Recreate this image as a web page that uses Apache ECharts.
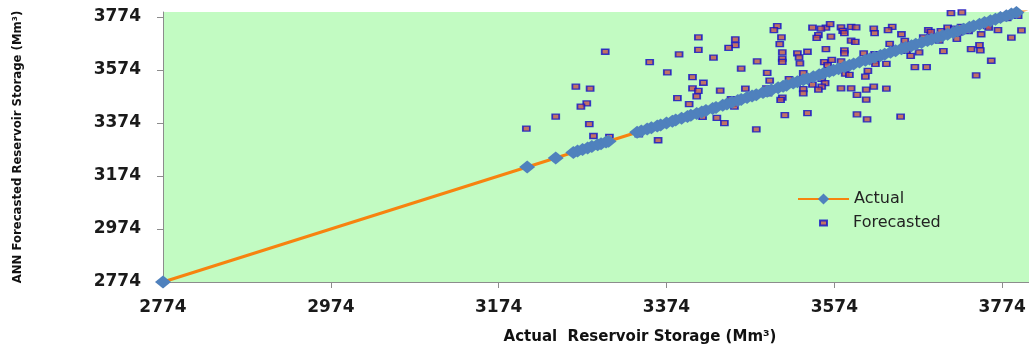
<!DOCTYPE html>
<html>
<head>
<meta charset="utf-8">
<script src="https://cdn.jsdelivr.net/npm/echarts@6/dist/echarts.min.js"></script>
<style>
  html, body { margin: 0; padding: 0; background: #fff; }
  #chart { width: 1029px; height: 347px; }
</style>
</head>
<body>
<div id="chart"></div>
<script>
// tick positions shared by both axes
const axisTicks = [2774, 2974, 3174, 3374, 3574, 3774];

// actual storage (plotted against itself)
const actualStorage = [
  2774, 3208, 3242, 3263, 3268, 3274, 3280, 3285, 3292, 3296, 3302, 3305,
  3339, 3344, 3351, 3356, 3363, 3367, 3374, 3381, 3385, 3392, 3399, 3403,
  3410, 3416, 3421, 3429, 3433, 3441, 3446, 3452, 3459, 3463, 3470, 3476,
  3481, 3489, 3494, 3499, 3507, 3513, 3517, 3525, 3530, 3537, 3542, 3549,
  3556, 3561, 3568, 3573, 3579, 3586, 3592, 3597, 3604, 3611, 3616, 3622,
  3629, 3634, 3641, 3647, 3654, 3659, 3666, 3671, 3678, 3685, 3690, 3697,
  3703, 3709, 3716, 3721, 3728, 3735, 3740, 3747, 3753, 3760, 3766, 3772,
  3779, 3785, 3791, 3798, 3804
];

// forecasted points: actual storage (x) and ANN forecast (y)
const forecastActual = [
  3301, 3389, 3354, 3375, 3405, 3266, 3283, 3279, 3272, 3242, 3207, 3282,
  3287, 3306, 3341, 3364, 3387, 3401, 3412, 3412, 3405, 3412, 3410,
  3506, 3502, 3548, 3564, 3558, 3569, 3582, 3584, 3586, 3594, 3600, 3456,
  3511, 3555, 3553, 3570, 3594, 3599, 3456, 3448, 3509, 3512, 3530, 3542,
  3564, 3586, 3586, 3609, 3430, 3512, 3532, 3512, 3482, 3562, 3571, 3582,
  3533, 3566, 3463, 3494, 3537, 3614, 3559, 3587, 3592, 3611, 3520, 3534,
  3497, 3559, 3418, 3529, 3563, 3548, 3559, 3438, 3468, 3493, 3504, 3537,
  3555, 3582, 3594, 3612, 3495, 3537, 3601, 3512, 3510, 3451, 3612, 3453,
  3455, 3417, 3434, 3515, 3542, 3601, 3613, 3443, 3481,
  3713, 3726, 3780, 3793, 3621, 3643, 3638, 3622, 3686, 3689, 3709, 3701,
  3717, 3725, 3722, 3734, 3734, 3756, 3758, 3769, 3797, 3654, 3749, 3680,
  3694, 3699, 3720, 3785, 3658, 3640, 3747, 3654, 3660, 3704, 3675, 3737,
  3748, 3622, 3628, 3665, 3622, 3623, 3636, 3761, 3670, 3684, 3743, 3621,
  3636, 3653
];
const forecastAnn = [
  3643, 3633, 3604, 3565, 3547, 3511, 3504, 3448, 3436, 3398, 3353, 3370,
  3325, 3322, 3331, 3309, 3468, 3445, 3697, 3650, 3505, 3495, 3475,
  3740, 3725, 3734, 3734, 3730, 3747, 3735, 3722, 3713, 3737, 3735, 3690,
  3697, 3706, 3695, 3700, 3685, 3680, 3668, 3658, 3672, 3641, 3637, 3643,
  3653, 3648, 3637, 3637, 3621, 3617, 3622, 3605, 3607, 3604, 3612, 3607,
  3599, 3592, 3579, 3563, 3562, 3571, 3554, 3560, 3556, 3549, 3540, 3539,
  3534, 3541, 3526, 3525, 3525, 3519, 3511, 3496, 3504, 3505, 3504, 3502,
  3500, 3505, 3505, 3500, 3486, 3486, 3480, 3470, 3461, 3464, 3462, 3446,
  3436, 3397, 3393, 3404, 3411, 3407, 3388, 3374, 3350,
  3789, 3792, 3770, 3778, 3730, 3737, 3725, 3713, 3725, 3718, 3734, 3721,
  3730, 3737, 3715, 3734, 3721, 3740, 3734, 3725, 3724, 3709, 3709, 3697,
  3688, 3685, 3692, 3696, 3684, 3673, 3668, 3652, 3646, 3645, 3641, 3653,
  3648, 3634, 3631, 3627, 3608, 3597, 3597, 3609, 3585, 3585, 3554, 3511,
  3504, 3398
];

const chart = echarts.init(document.getElementById('chart'));

const labelFont = {
  fontFamily: 'DejaVu Sans',
  fontWeight: 'bold',
  fontSize: 17,
  color: '#1a1a1a',
  formatter: v => String(v)
};

const option = {
  animation: false,
  backgroundColor: '#ffffff',
  grid: {
    left: 163,
    right: 0,
    top: 12,
    bottom: 65,
    show: true,
    backgroundColor: '#c2fbc2',
    borderWidth: 0,
    containLabel: false,
    outerBoundsMode: 'none'
  },
  legend: [
    {
      data: ['Actual'],
      left: 797,
      top: 191,
      padding: 0,
      itemWidth: 51,
      itemHeight: 14,
      textStyle: { fontFamily: 'DejaVu Sans', fontSize: 16, color: '#222' }
    },
    {
      data: ['Forecasted'],
      left: 819,
      top: 215,
      padding: 0,
      itemWidth: 7,
      itemHeight: 5,
      textStyle: { fontFamily: 'DejaVu Sans', fontSize: 16, color: '#222', padding: [0, 0, 0, 21] }
    }
  ],
  xAxis: {
    type: 'value',
    min: 2774,
    max: 3806,
    name: 'Actual  Reservoir Storage (Mm³)',
    nameLocation: 'middle',
    nameGap: 48,
    nameTextStyle: {
      fontFamily: 'DejaVu Sans',
      fontWeight: 'bold',
      fontSize: 15,
      color: '#111',
      padding: [0, 0, 0, 88]
    },
    axisLine: { show: true, lineStyle: { color: '#8c8c8c', width: 1 } },
    axisTick: { show: true, length: 6, lineStyle: { color: '#8c8c8c' }, customValues: axisTicks },
    axisLabel: Object.assign({ margin: 17, customValues: axisTicks }, labelFont),
    splitLine: { show: false }
  },
  yAxis: {
    type: 'value',
    min: 2774,
    max: 3793,
    name: 'ANN Forecasted Reservoir Storage (Mm³)',
    nameLocation: 'middle',
    nameGap: 139,
    nameTextStyle: {
      fontFamily: '"DejaVu Sans Condensed", "Liberation Sans", sans-serif',
      fontWeight: 'bold',
      fontSize: 13,
      color: '#111'
    },
    axisLine: { show: true, lineStyle: { color: '#8c8c8c', width: 1 } },
    axisTick: { show: true, length: 6, lineStyle: { color: '#8c8c8c' }, customValues: axisTicks },
    axisLabel: Object.assign({ margin: 22, customValues: axisTicks }, labelFont),
    splitLine: { show: false }
  },
  series: [
    {
      name: 'Actual',
      type: 'line',
      data: actualStorage.map(v => [v, v]),
      symbol: 'diamond',
      symbolSize: [16, 13],
      showSymbol: true,
      lineStyle: { color: '#f7830f', width: 3 },
      itemStyle: { color: '#4f81bd' }
    },
    {
      name: 'Forecasted',
      type: 'scatter',
      data: forecastActual.map((v, i) => [v, forecastAnn[i]]),
      symbol: 'rect',
      symbolSize: [7, 5],
      itemStyle: { color: '#c0504d', borderColor: '#1010c8', borderWidth: 1.5 }
    }
  ]
};

chart.setOption(option);
</script>
</body>
</html>
